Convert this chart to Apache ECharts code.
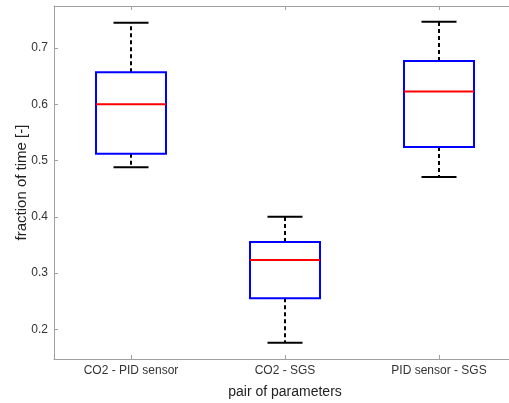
<!DOCTYPE html>
<html>
<head>
<meta charset="utf-8">
<script src="https://cdn.jsdelivr.net/npm/echarts@6/dist/echarts.min.js"></script>
<style>
html, body { margin: 0; padding: 0; background: #fff; }
#chart { width: 509px; height: 403px; }
</style>
</head>
<body>
<div id="chart"></div>
<script>
var pairs = ['CO2 - PID sensor', 'CO2 - SGS', 'PID sensor - SGS'];
var lowerWhisker = [0.488, 0.176, 0.471];
var q1 = [0.512, 0.255, 0.524];
var median = [0.600, 0.323, 0.623];
var q3 = [0.657, 0.355, 0.677];
var upperWhisker = [0.745, 0.400, 0.747];
var yTicks = [0.2, 0.3, 0.4, 0.5, 0.6, 0.7];

var boxData = pairs.map(function(p, i) {
	return [i, lowerWhisker[i], q1[i], median[i], q3[i], upperWhisker[i]];
});

// box in matlab style: blue box, red median, black dashed whiskers
function renderBox(params, api) {
	var i = api.value(0);
	var xc = api.coord([i, 0])[0];
	var yLo = api.coord([i, api.value(1)])[1];
	var yQ1 = api.coord([i, api.value(2)])[1];
	var yMed = api.coord([i, api.value(3)])[1];
	var yQ3 = api.coord([i, api.value(4)])[1];
	var yHi = api.coord([i, api.value(5)])[1];
	var half = 35, cap = 17.5;
	var dashed = { stroke: '#000', lineWidth: 2, lineDash: [4, 3], fill: null };
	var solid = { stroke: '#000', lineWidth: 2, fill: null };
	return {
		type: 'group',
		children: [
			{ type: 'line', shape: { x1: xc, y1: yQ1, x2: xc, y2: yLo }, style: dashed },
			{ type: 'line', shape: { x1: xc, y1: yQ3, x2: xc, y2: yHi }, style: dashed },
			{ type: 'line', shape: { x1: xc - cap, y1: yLo, x2: xc + cap, y2: yLo }, style: solid },
			{ type: 'line', shape: { x1: xc - cap, y1: yHi, x2: xc + cap, y2: yHi }, style: solid },
			{ type: 'rect', shape: { x: xc - half, y: yQ3, width: half * 2, height: yQ1 - yQ3 },
				style: { stroke: '#0000ff', lineWidth: 2, fill: '#fff' } },
			{ type: 'line', shape: { x1: xc - half, y1: yMed, x2: xc + half, y2: yMed },
				style: { stroke: '#ff0000', lineWidth: 2 } }
		]
	};
}

var myChart = echarts.init(document.getElementById('chart'));
myChart.setOption({
	animation: false,
	grid: {
		left: 54,
		top: 6,
		right: -7,
		bottom: 44,
		outerBoundsMode: 'none',
		show: false
	},
	xAxis: [{
		type: 'category',
		data: pairs,
		position: 'bottom',
		name: 'pair of parameters',
		nameLocation: 'middle',
		nameGap: 26,
		nameMoveOverlap: false,
		nameTextStyle: { fontFamily: 'Liberation Sans', fontSize: 14, color: '#222' },
		axisLine: { show: true, lineStyle: { color: '#a0a0a0' } },
		axisTick: { show: true, inside: true, alignWithLabel: true, length: 4, lineStyle: { color: '#a0a0a0' } },
		axisLabel: { fontFamily: 'Liberation Sans', fontSize: 12, color: '#333', margin: 6 },
		splitLine: { show: false }
	}, {
		type: 'category',
		data: pairs,
		position: 'top',
		axisLine: { show: true, lineStyle: { color: '#a0a0a0' } },
		axisTick: { show: true, inside: true, alignWithLabel: true, length: 4, lineStyle: { color: '#a0a0a0' } },
		axisLabel: { show: false },
		splitLine: { show: false }
	}],
	yAxis: {
		type: 'value',
		min: 0.147,
		max: 0.775,
		name: 'fraction of time [-]',
		nameLocation: 'middle',
		nameGap: 25,
		nameMoveOverlap: false,
		nameTextStyle: { fontFamily: 'Liberation Sans', fontSize: 15, color: '#222' },
		axisLine: { show: true, lineStyle: { color: '#a0a0a0' } },
		axisTick: { show: true, inside: true, length: 4, customValues: yTicks, lineStyle: { color: '#a0a0a0' } },
		axisLabel: {
			fontFamily: 'Liberation Sans', fontSize: 12, color: '#333', margin: 6,
			customValues: yTicks,
			formatter: function(v) { return v.toFixed(1); }
		},
		splitLine: { show: false }
	},
	series: [{
		type: 'custom',
		renderItem: renderBox,
		encode: { x: 0, y: [1, 2, 3, 4, 5] },
		data: boxData
	}]
});
</script>
</body>
</html>
